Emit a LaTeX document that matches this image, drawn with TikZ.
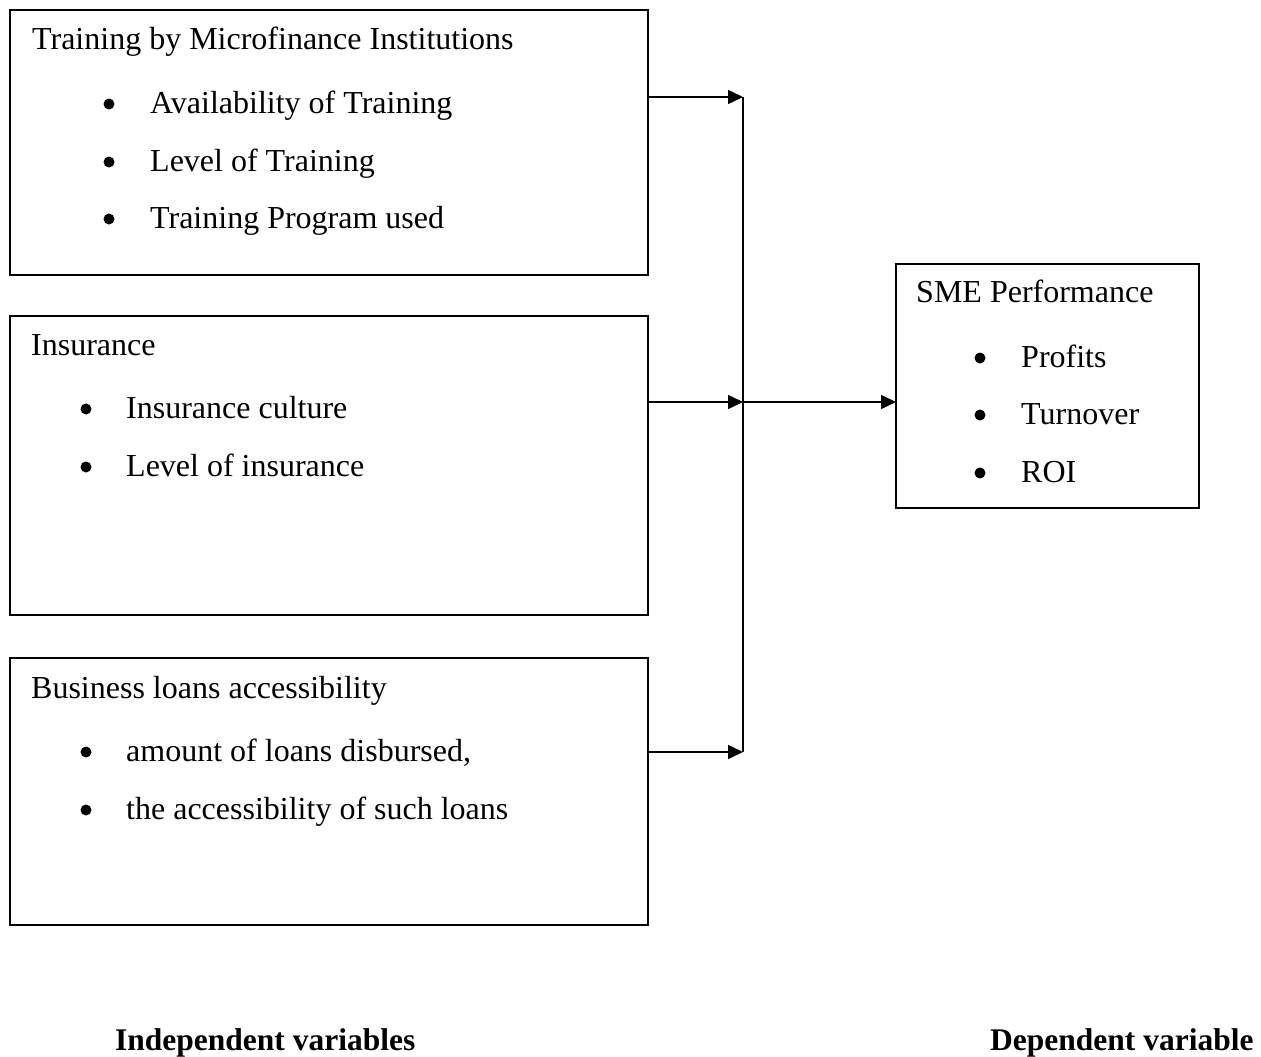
\documentclass[tikz,border=0pt]{standalone}
\usepackage{fontspec}
\setmainfont{Liberation Serif}
\usetikzlibrary{arrows.meta}
\begin{document}
\begin{tikzpicture}[x=1pt,y=-1pt,
  box/.style={draw,line width=1.6pt,inner sep=0pt},
  txt/.style={anchor=base west,inner sep=0pt,font=\fontsize{32}{38}\selectfont},
  bul/.style={circle,fill,inner sep=0pt,minimum size=11pt},
  lab/.style={anchor=base west,inner sep=0pt,font=\fontsize{31.5}{38}\selectfont\bfseries},
  conn/.style={line width=1.6pt},
  arr/.style={line width=1.6pt,-{Triangle[length=15pt,width=14pt]}}]
\useasboundingbox (0,0) rectangle (1261,1057);
% boxes
\draw[box] (10,10) rectangle (648,275);
\draw[box] (10,316) rectangle (648,615);
\draw[box] (10,658) rectangle (648,925);
\draw[box] (896,264) rectangle (1199,508);
% connector coordinates
\coordinate (o1) at (648,97);
\coordinate (o2) at (648,402);
\coordinate (o3) at (648,752);
\coordinate (j1) at (743,97);
\coordinate (j2) at (743,402);
\coordinate (j3) at (743,752);
\coordinate (sme) at (896,402);
% box 1
\node[txt] (t1) at (32,50) {Training by Microfinance Institutions};
\node[bul] (b11) at (109,104) {};
\node[txt] (t11) at (150,113) {Availability of Training};
\node[bul] (b12) at (109,162) {};
\node[txt] (t12) at (150,171) {Level of Training};
\node[bul] (b13) at (109,219) {};
\node[txt] (t13) at (150,228) {Training Program used};
% box 2
\node[txt] (t2) at (31,355) {Insurance};
\node[bul] (b21) at (86,409) {};
\node[txt] (t21) at (126,418) {Insurance culture};
\node[bul] (b22) at (86,467) {};
\node[txt] (t22) at (126,476) {Level of insurance};
% box 3
\node[txt] (t3) at (31,698) {Business loans accessibility};
\node[bul] (b31) at (86,752) {};
\node[txt] (t31) at (126,761) {amount of loans disbursed,};
\node[bul] (b32) at (86,810) {};
\node[txt] (t32) at (126,819) {the accessibility of such loans};
% SME box
\node[txt] (t4) at (916,302) {SME Performance};
\node[bul] (b41) at (980,358) {};
\node[txt] (t41) at (1021,367) {Profits};
\node[bul] (b42) at (980,415) {};
\node[txt] (t42) at (1021,424) {Turnover};
\node[bul] (b43) at (980,473) {};
\node[txt] (t43) at (1021,482) {ROI};
% labels
\node[lab] (iv) at (115,1050) {Independent variables};
\node[lab] (dv) at (990,1050) {Dependent variable};
% connectors
\draw[conn] (j1) -- (j3);
\draw[arr] (o1) -- (j1);
\draw[arr] (o2) -- (j2);
\draw[arr] (o3) -- (j3);
\draw[arr] (j2) -- (sme);
\end{tikzpicture}
\end{document}
